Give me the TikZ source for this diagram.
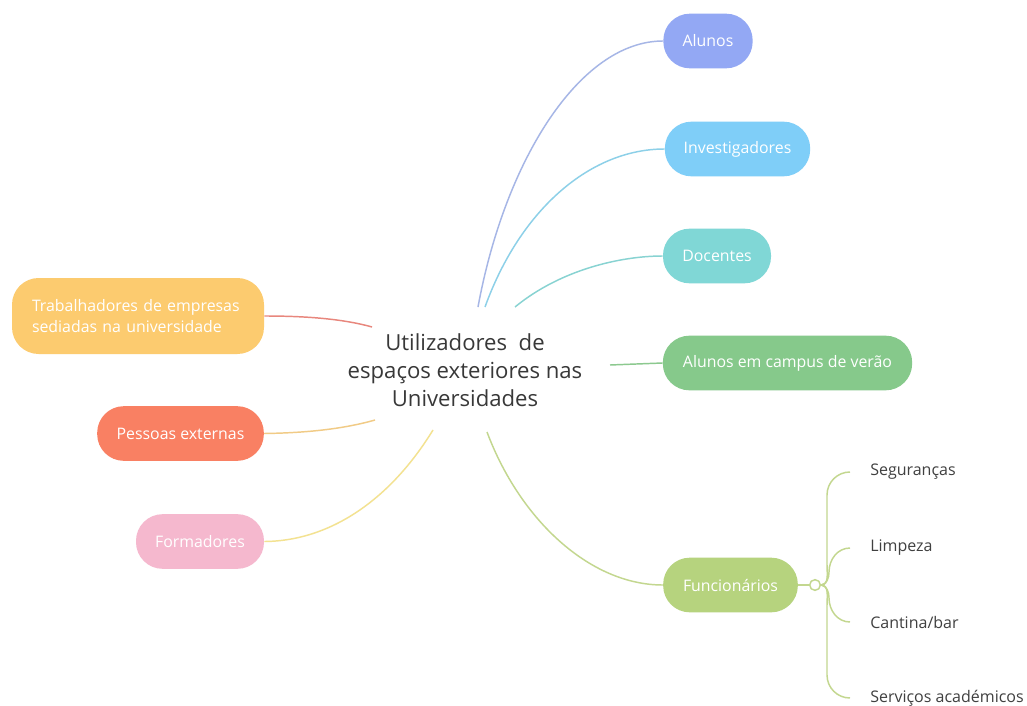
\documentclass[tikz,border=0pt]{standalone}
\usepackage{fontspec}
\setmainfont{Open Sans}
\begin{document}
\begin{tikzpicture}[x=0.75pt,y=-0.75pt,
  pill/.style={rounded corners=20pt,minimum height=41pt,text=white,font=\fontsize{11.9}{15.7}\selectfont,inner xsep=0pt,align=left},
  link/.style={line width=1.1pt},
  sub/.style={anchor=west,inner xsep=15pt,inner ysep=2pt,text=black!75,font=\fontsize{12}{14}\selectfont},
  ]
\definecolor{cAl}{HTML}{93A8F4}
\definecolor{cIn}{HTML}{7FCEF8}
\definecolor{cDo}{HTML}{80D7D6}
\definecolor{cCa}{HTML}{86C98B}
\definecolor{cFu}{HTML}{B6D37E}
\definecolor{cTr}{HTML}{FCCB6F}
\definecolor{cPe}{HTML}{F98063}
\definecolor{cFo}{HTML}{F5B8CE}
\definecolor{lAl}{HTML}{A6B6E6}
\definecolor{lIn}{HTML}{8DD0E8}
\definecolor{lDo}{HTML}{88D3D2}
\definecolor{lCa}{HTML}{8CC98F}
\definecolor{lFu}{HTML}{C3D78F}
\definecolor{lTr}{HTML}{E8877D}
\definecolor{lPe}{HTML}{F1CB86}
\definecolor{lFo}{HTML}{F3E291}
\useasboundingbox[fill=white] (0,0) rectangle (1027,706);

\node[align=center,text=black!78,font=\fontsize{16.6}{21}\selectfont] (root) at (465,370)
  {Utilizadores\ \ de\\espaços exteriores nas\\Universidades};

\coordinate (rA) at (478,307);
\coordinate (rI) at (485,307);
\coordinate (rD) at (515,307);
\coordinate (rC) at (610,365);
\coordinate (rF) at (487,432);
\coordinate (rT) at (372,327);
\coordinate (rP) at (375,420);
\coordinate (rO) at (433,430);

\node[pill,fill=cAl,minimum width=67pt] (al) at (708,41) {Alunos};
\node[pill,fill=cIn,minimum width=109pt] (inv) at (737.5,149) {Investigadores};
\node[pill,fill=cDo,minimum width=81pt] (doc) at (717,256) {Docentes};
\node[pill,fill=cCa,minimum width=187pt] (cam) at (787.5,363) {Alunos em campus de verão};
\node[pill,fill=cFu,minimum width=101pt] (fun) at (730.5,585) {Funcionários};
\node[pill,fill=cTr,minimum width=189pt,minimum height=57pt,text width=159pt] (tra) at (138,316) {Trabalhadores de empresas\\sediadas na universidade};
\node[pill,fill=cPe,minimum width=125pt] (pes) at (180.5,433.5) {Pessoas externas};
\node[pill,fill=cFo,minimum width=96pt] (for) at (200,541.5) {Formadores};

\draw[link,lAl] (rA) .. controls (505,160) and (580,41) .. (al.west);
\draw[link,lIn] (rI) .. controls (520,210) and (590,149) .. (inv.west);
\draw[link,lDo] (rD) .. controls (560,270) and (620,256) .. (doc.west);
\draw[link,lCa] (rC) -- (cam.west);
\draw[link,lFu] (rF) .. controls (520,520) and (590,585) .. (fun.west);
\draw[link,lTr] (rT) .. controls (340,318) and (300,316) .. (tra.east);
\draw[link,lPe] (rP) .. controls (340,430) and (300,433) .. (pes.east);
\draw[link,lFo] (rO) .. controls (390,500) and (330,541) .. (for.east);

\node[draw=lFu,line width=1.1pt,fill=white,circle,minimum size=8pt,inner sep=0pt] (knot) at (815,585) {};
\draw[link,lFu] (fun.east) -- (knot.west);

\node[sub] (s1) at (850,472) {Seguranças};
\node[sub] (s2) at (850,548) {Limpeza};
\node[sub] (s3) at (850,622) {Cantina/bar};
\node[sub] (s4) at (850,698) {Serviços académicos};

\draw[link,lFu] (knot.east) to[out=0,in=-90] (827,565) -- (827,495) to[out=90,in=180] (s1.west);
\draw[link,lFu] (knot.east) to[out=10,in=-90] (829,572) to[out=90,in=180] (s2.west);
\draw[link,lFu] (knot.east) to[out=-10,in=90] (829,598) to[out=-90,in=180] (s3.west);
\draw[link,lFu] (knot.east) to[out=0,in=90] (827,605) -- (827,675) to[out=-90,in=180] (s4.west);
\end{tikzpicture}
\end{document}
